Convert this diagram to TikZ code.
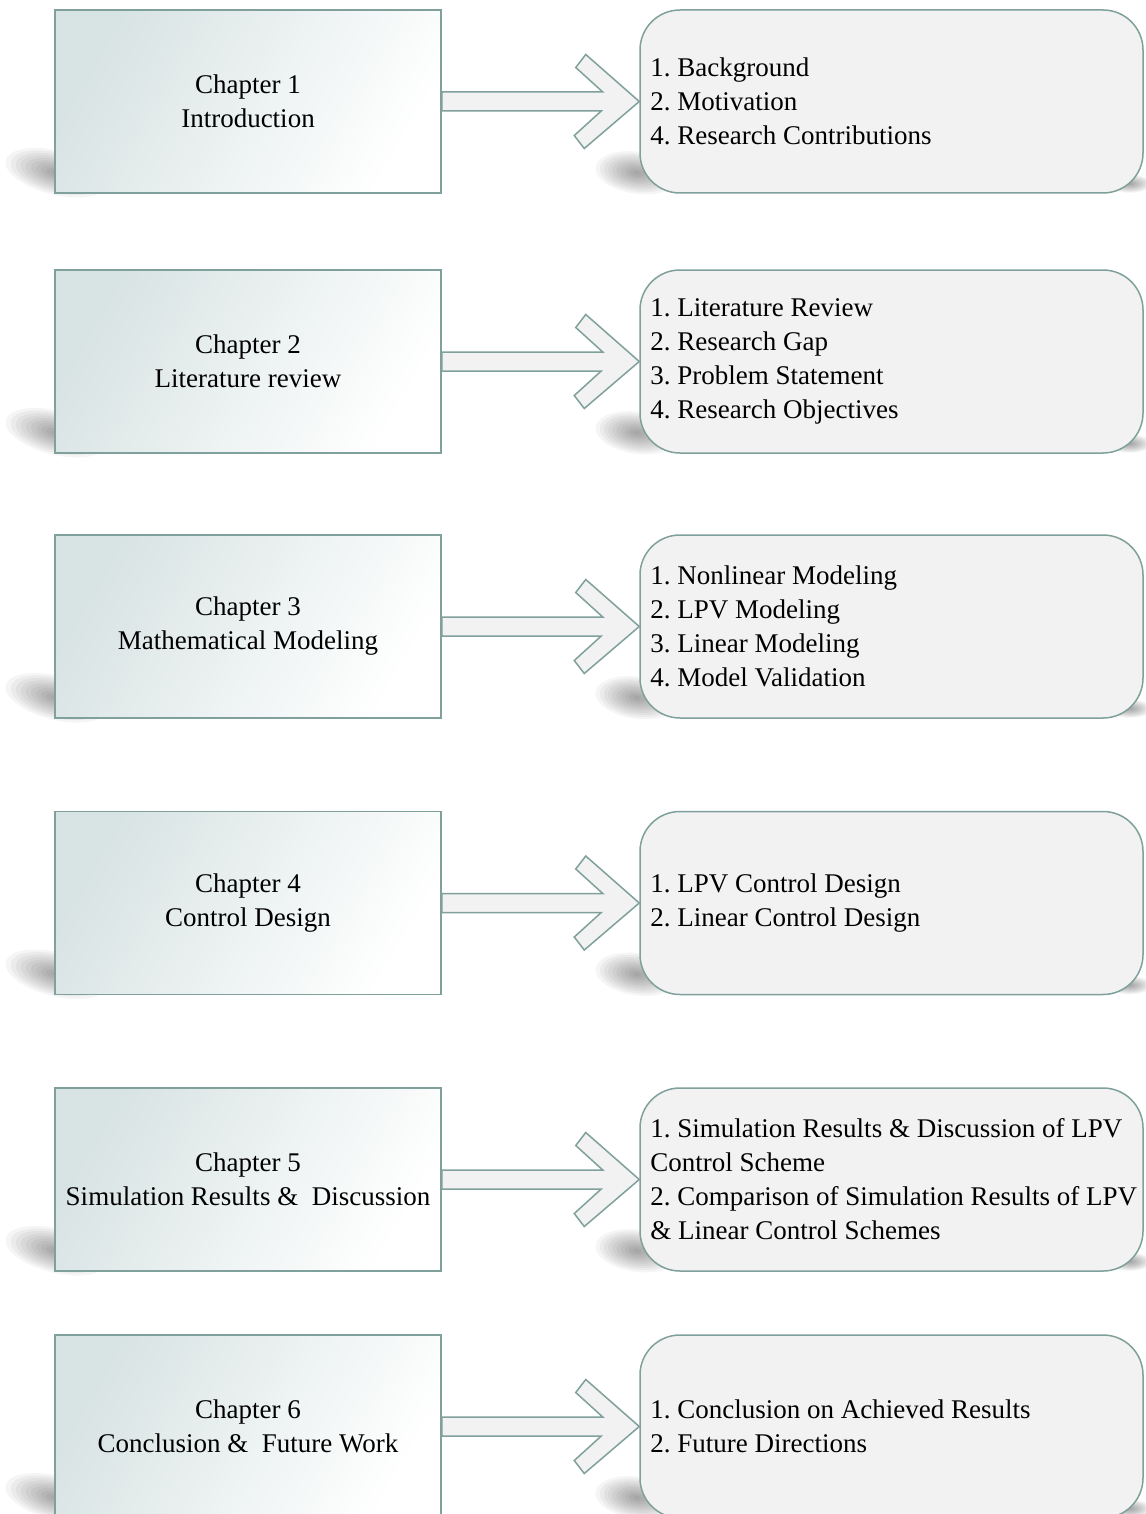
\documentclass[tikz,border=0pt]{standalone}
\usepackage{fontspec}
\setmainfont{Liberation Serif}
\usetikzlibrary{calc}
\pgfdeclarelayer{background}
\pgfsetlayers{background,main}

\definecolor{edgecol}{RGB}{127,160,155}
\definecolor{panelfill}{RGB}{242,242,242}
\definecolor{chapleft}{RGB}{216,227,227}

\tikzset{
  chapbox/.style={draw=edgecol, line width=1.5pt, minimum width=386pt,
    minimum height=183pt, inner sep=0pt, align=center,
    top color=chapleft, bottom color=white, shading angle=60},
  panel/.style={draw=edgecol, line width=1.5pt, fill=panelfill,
    rounded corners=40pt, minimum width=503pt, minimum height=183pt, inner sep=0pt},
  paneltext/.style={anchor=west, align=left, inner sep=0pt},
  bigarrow/.style={draw=edgecol, line width=1.5pt, fill=panelfill, line join=miter},
  softshadow/.style={black, opacity=0.04}
}

% soft blurred shadow blob: centre, x radius, y radius, rotation
\newcommand{\shadowblob}[4]{%
  \foreach \k in {1,...,10} {
    \fill[softshadow, shift={#1}, rotate=#4]
      (0,0) ellipse [x radius=#2*\k/10 pt, y radius=#3*\k/10 pt];
  }%
}

% one chapter row: left chapter box, right topic panel, chevron arrow, shadows
\newcommand{\chapterrow}[4]{%
  \node[chapbox] (L#1) at (248,#2) {#3};
  \node[panel]   (R#1) at (891.5,#2) {};
  \node[paneltext] (T#1) at ($(R#1.west)+(11,0)$) {#4};
  \draw[bigarrow] ($(L#1.east)+(0,-9.5)$) -- ++(161,0) -- ++(-27,-24.5)
    -- ++(10,-13) -- (R#1.west) -- ++(-55,47) -- ++(-10,-13)
    -- ++(27,-24.5) -- ($(L#1.east)+(0,9.5)$) -- cycle;
  \begin{pgfonlayer}{background}
    \shadowblob{($(L#1.south west)+(2,-21)$)}{52}{22}{-14}
    \shadowblob{($(R#1.south west)+(-2,-21)$)}{42}{21}{-8}
    \shadowblob{($(R#1.south east)+(-14,-10)$)}{22}{9}{0}
  \end{pgfonlayer}
}

\begin{document}
\frenchspacing
\begin{tikzpicture}[x=1pt, y=-1pt, font=\fontsize{27}{34}\selectfont]
\useasboundingbox (0,0) rectangle (1145,1514);
\clip (0,0) rectangle (1145,1514);
\begin{pgfonlayer}{background}
  \fill[white] (0,0) rectangle (1145,1514);
\end{pgfonlayer}

\chapterrow{1}{101.5}{Chapter 1\\Introduction}
  {1. Background\\2. Motivation\\4. Research Contributions}
\chapterrow{2}{361.5}{Chapter 2\\Literature review}
  {1. Literature Review\\2. Research Gap\\3. Problem Statement\\4. Research Objectives}
\chapterrow{3}{626.5}{Chapter 3\\Mathematical Modeling}
  {1. Nonlinear Modeling\\2. LPV Modeling\\3. Linear Modeling\\4. Model Validation}
\chapterrow{4}{903}{Chapter 4\\Control Design}
  {1. LPV Control Design\\2. Linear Control Design}
\chapterrow{5}{1179.5}{Chapter 5\\Simulation Results \&\ \ Discussion}
  {1. Simulation Results \& Discussion of LPV\\Control Scheme\\2. Comparison of Simulation Results of LPV\\\& Linear Control Schemes}
\chapterrow{6}{1426.5}{Chapter 6\\Conclusion \&\ \ Future Work}
  {1. Conclusion on Achieved Results\\2. Future Directions}
\end{tikzpicture}
\end{document}
